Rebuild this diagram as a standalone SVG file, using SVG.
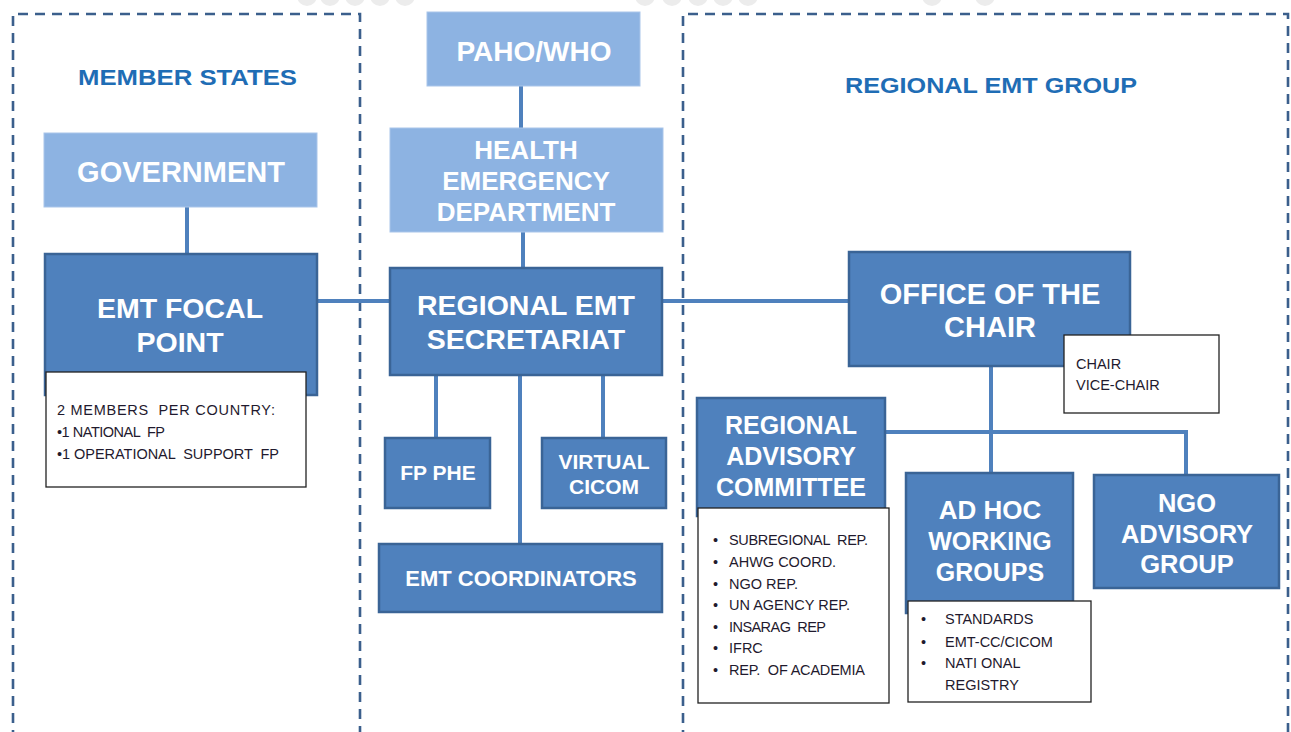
<svg xmlns="http://www.w3.org/2000/svg" width="1291" height="732" viewBox="0 0 1291 732">
<style>
.dash{fill:none;stroke:#3b5f8c;stroke-width:2.6;stroke-dasharray:10 7}
.dot{fill:#ececec}
.dark{fill:#4f81bd;stroke:#3a6496;stroke-width:2.5}
.light{fill:#8db3e2;stroke:#a9c5ea;stroke-width:1}
.note{fill:#fff;stroke:#222;stroke-width:1.3}
.t{font-family:"Liberation Sans",Arial,sans-serif;font-weight:bold;fill:#fff;text-anchor:middle}
.h{font-family:"Liberation Sans",Arial,sans-serif;font-weight:bold;fill:#1f6db5;font-size:22px}
.s{font-family:"Liberation Sans",Arial,sans-serif;fill:#1f1a2e;font-size:14.5px;white-space:pre}
.c{stroke:#4f81bd;stroke-width:4;fill:none}
</style>
<rect width="1291" height="732" fill="#fff"/>
<g id="decor">
<circle class="dot" cx="307" cy="-4" r="10"/><circle class="dot" cx="330" cy="-4" r="10"/><circle class="dot" cx="355" cy="-4" r="10"/><circle class="dot" cx="380" cy="-4" r="10"/><circle class="dot" cx="405" cy="-4" r="10"/>
<circle class="dot" cx="645" cy="-4" r="10"/><circle class="dot" cx="672" cy="-4" r="10"/><circle class="dot" cx="698" cy="-4" r="10"/><circle class="dot" cx="723" cy="-4" r="10"/><circle class="dot" cx="748" cy="-4" r="10"/>
<circle class="dot" cx="932" cy="-4" r="10"/><circle class="dot" cx="985" cy="-4" r="10"/>
<path class="dash" d="M13 740 V14 H360 V740"/>
<path class="dash" d="M683 740 V14 H1288 V740"/>
<text class="h" x="78" y="85" textLength="219" lengthAdjust="spacingAndGlyphs">MEMBER STATES</text>
<text class="h" x="845" y="93" textLength="292" lengthAdjust="spacingAndGlyphs">REGIONAL EMT GROUP</text>
</g>
<g id="connectors">
<line class="c" x1="521" y1="86" x2="521" y2="128"/>
<line class="c" x1="523" y1="232" x2="523" y2="268"/>
<line class="c" x1="187" y1="207" x2="187" y2="254"/>
<line class="c" x1="317" y1="301" x2="390" y2="301"/>
<line class="c" x1="662" y1="301" x2="849" y2="301"/>
<line class="c" x1="436" y1="375" x2="436" y2="438"/>
<line class="c" x1="520" y1="375" x2="520" y2="544"/>
<line class="c" x1="603" y1="375" x2="603" y2="438"/>
<line class="c" x1="991" y1="366" x2="991" y2="473"/>
<path class="c" d="M885 432 H1186 V475"/>
</g>
<g id="paho"><rect class="light" x="427" y="12" width="213" height="74"/><text class="t" x="534" y="61" font-size="28">PAHO/WHO</text></g>
<g id="hed"><rect class="light" x="390" y="128" width="273" height="104"/><text class="t" x="526" y="159" font-size="26">HEALTH</text><text class="t" x="526" y="190" font-size="26">EMERGENCY</text><text class="t" x="526" y="221" font-size="26">DEPARTMENT</text></g>
<g id="government"><rect class="light" x="44" y="133" width="273" height="74"/><text class="t" x="181" y="182" font-size="29">GOVERNMENT</text></g>
<g id="emtfp"><rect class="dark" x="45" y="254" width="272" height="141"/><text class="t" x="180" y="318" font-size="28.5">EMT FOCAL</text><text class="t" x="180" y="352" font-size="28.5">POINT</text></g>
<g id="members"><rect class="note" x="46" y="372" width="260" height="115"/><text class="s" x="57" y="415" textLength="218">2 MEMBERS  PER COUNTRY:</text><text class="s" x="57" y="437" textLength="108">•1 NATIONAL  FP</text><text class="s" x="57" y="459" textLength="222">•1 OPERATIONAL  SUPPORT  FP</text></g>
<g id="secretariat"><rect class="dark" x="390" y="268" width="272" height="107"/><text class="t" x="526" y="315" font-size="28.5">REGIONAL EMT</text><text class="t" x="526" y="349" font-size="28.5">SECRETARIAT</text></g>
<g id="fpphe"><rect class="dark" x="385" y="438" width="105" height="70"/><text class="t" x="438" y="480" font-size="21">FP PHE</text></g>
<g id="cicom"><rect class="dark" x="542" y="438" width="124" height="70"/><text class="t" x="604" y="469" font-size="21">VIRTUAL</text><text class="t" x="604" y="494" font-size="21">CICOM</text></g>
<g id="coordinators"><rect class="dark" x="379" y="544" width="283" height="68"/><text class="t" x="521" y="586" font-size="22">EMT COORDINATORS</text></g>
<g id="chair"><rect class="dark" x="849" y="252" width="281" height="114"/><text class="t" x="990" y="304" font-size="29">OFFICE OF THE</text><text class="t" x="990" y="337" font-size="29">CHAIR</text></g>
<g id="chairnote"><rect class="note" x="1064" y="335" width="155" height="78"/><text class="s" x="1076" y="369">CHAIR</text><text class="s" x="1076" y="390">VICE-CHAIR</text></g>
<g id="rac"><rect class="dark" x="697" y="398" width="188" height="118"/><text class="t" x="791" y="434" font-size="25">REGIONAL</text><text class="t" x="791" y="465" font-size="25">ADVISORY</text><text class="t" x="791" y="496" font-size="25">COMMITTEE</text></g>
<g id="racnote"><rect class="note" x="698" y="508" width="191" height="195"/>
<text class="s" x="713" y="545">•</text><text class="s" x="729" y="545" textLength="139">SUBREGIONAL  REP.</text>
<text class="s" x="713" y="567">•</text><text class="s" x="729" y="567">AHWG COORD.</text>
<text class="s" x="713" y="589">•</text><text class="s" x="729" y="589">NGO REP.</text>
<text class="s" x="713" y="610">•</text><text class="s" x="729" y="610">UN AGENCY REP.</text>
<text class="s" x="713" y="632">•</text><text class="s" x="729" y="632" textLength="97">INSARAG  REP</text>
<text class="s" x="713" y="653">•</text><text class="s" x="729" y="653">IFRC</text>
<text class="s" x="713" y="675">•</text><text class="s" x="729" y="675" textLength="136">REP.  OF ACADEMIA</text></g>
<g id="ahwg"><rect class="dark" x="906" y="473" width="167" height="140"/><text class="t" x="990" y="519" font-size="26">AD HOC</text><text class="t" x="990" y="550" font-size="25">WORKING</text><text class="t" x="990" y="581" font-size="25">GROUPS</text></g>
<g id="ahwgnote"><rect class="note" x="908" y="601" width="183" height="101"/>
<text class="s" x="921" y="624">•</text><text class="s" x="945" y="624">STANDARDS</text>
<text class="s" x="921" y="647">•</text><text class="s" x="945" y="647">EMT-CC/CICOM</text>
<text class="s" x="921" y="668">•</text><text class="s" x="945" y="668">NATI ONAL</text>
<text class="s" x="945" y="690">REGISTRY</text></g>
<g id="ngo"><rect class="dark" x="1094" y="475" width="185" height="113"/><text class="t" x="1187" y="512" font-size="25.5">NGO</text><text class="t" x="1187" y="543" font-size="25.5">ADVISORY</text><text class="t" x="1187" y="573" font-size="25.5">GROUP</text></g>
</svg>
